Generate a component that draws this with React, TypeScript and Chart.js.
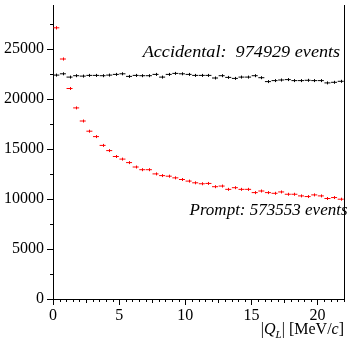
import React, { useEffect, useRef } from "react";
import { Chart, registerables } from "chart.js";

Chart.register(...registerables);

// bin centres of |Q_L| in MeV/c (0.5 MeV/c bins)
const binCenters = [
  0.25, 0.75, 1.25, 1.75, 2.25, 2.75, 3.25, 3.75, 4.25, 4.75,
  5.25, 5.75, 6.25, 6.75, 7.25, 7.75, 8.25, 8.75, 9.25, 9.75,
  10.25, 10.75, 11.25, 11.75, 12.25, 12.75, 13.25, 13.75, 14.25, 14.75,
  15.25, 15.75, 16.25, 16.75, 17.25, 17.75, 18.25, 18.75, 19.25, 19.75,
  20.25, 20.75, 21.25, 21.75,
];

const promptCounts = [
  27120, 24000, 21050, 19110, 17800, 16780, 16240, 15360, 14840, 14250,
  13990, 13640, 13200, 12930, 12930, 12510, 12340, 12280, 12115, 11950,
  11790, 11620, 11525, 11555, 11230, 11295, 10965, 11130, 10965, 10965,
  10640, 10800, 10640, 10570, 10705, 10475, 10475, 10310, 10245, 10410,
  10310, 10050, 10145, 9980,
];

const accidentalCounts = [
  22390, 22520, 22190, 22330, 22290, 22360, 22360, 22330, 22390, 22460,
  22520, 22260, 22360, 22330, 22330, 22460, 22190, 22460, 22560, 22520,
  22460, 22360, 22360, 22360, 22100, 22330, 22160, 22060, 22190, 22190,
  22330, 22130, 21740, 21840, 21900, 21940, 21840, 21840, 21870, 21840,
  21840, 21610, 21670, 21770,
];

const yTickValues = [0, 5000, 10000, 15000, 20000, 25000];
const xTickValues = [0, 5, 10, 15, 20];

const accidentalLabel = "Accidental:  974929 events";
const promptLabel = "Prompt: 573553 events";

const SERIF = '"Liberation Serif", "Times New Roman", serif';
Chart.defaults.font.family = SERIF;

const decorPlugin = {
  id: "decor",
  afterDraw(chart: any) {
    const ctx = chart.ctx as CanvasRenderingContext2D;
    const area = chart.chartArea;
    const xs = chart.scales.x;
    const ys = chart.scales.y;
    ctx.save();

    // error bars (vertical, Poisson)
    chart.data.datasets.forEach((ds: any) => {
      ctx.strokeStyle = ds.borderColor;
      ctx.lineWidth = 1;
      ds.data.forEach((p: any) => {
        const px = Math.round(xs.getPixelForValue(p.x)) + 0.5;
        const py = ys.getPixelForValue(p.y);
        const e = Math.sqrt(p.y);
        let h = Math.abs(ys.getPixelForValue(p.y - e) - py);
        if (h < 1.5) h = 1.5;
        ctx.beginPath();
        ctx.moveTo(px, py - h);
        ctx.lineTo(px, py + h);
        ctx.stroke();
      });
    });

    ctx.strokeStyle = "#000";
    ctx.lineWidth = 1;
    // right frame
    ctx.beginPath();
    ctx.moveTo(Math.round(area.right) + 0.5, area.top);
    ctx.lineTo(Math.round(area.right) + 0.5, area.bottom);
    ctx.stroke();

    // y minor ticks
    for (let v = 2500; v < ys.max; v += 5000) {
      const py = Math.round(ys.getPixelForValue(v)) + 0.5;
      ctx.beginPath();
      ctx.moveTo(area.left - 3, py);
      ctx.lineTo(area.left, py);
      ctx.stroke();
    }
    // x minor ticks
    for (let i = 1; i * 0.5 <= xs.max; i++) {
      const v = i * 0.5;
      if (Math.abs(v / 5 - Math.round(v / 5)) < 1e-9) continue;
      const px = Math.round(xs.getPixelForValue(v)) + 0.5;
      const len = Math.abs(v / 2.5 - Math.round(v / 2.5)) < 1e-9 ? 4 : 3;
      ctx.beginPath();
      ctx.moveTo(px, area.bottom);
      ctx.lineTo(px, area.bottom + len);
      ctx.stroke();
    }

    // annotations
    ctx.fillStyle = "#000";
    ctx.font = `italic 17px ${SERIF}`;
    ctx.textBaseline = "middle";
    ctx.textAlign = "left";
    // slightly wider rendering of the accidental label to match the original
    const ax = xs.getPixelForValue(6.78);
    const ay = ys.getPixelForValue(24600);
    ctx.save();
    ctx.translate(ax, ay);
    ctx.scale(1.07, 1);
    ctx.fillText(accidentalLabel, 0, 0);
    ctx.restore();
    ctx.fillText(promptLabel, xs.getPixelForValue(10.32), ys.getPixelForValue(8850));

    // axis title |Q_L| [MeV/c]
    const parts: [string, string, number][] = [
      ["|", `16px ${SERIF}`, 0],
      ["Q", `italic 16px ${SERIF}`, 0],
      ["L", `italic 11px ${SERIF}`, 4],
      ["| [MeV/", `16px ${SERIF}`, 0],
      ["c", `italic 16px ${SERIF}`, 0],
      ["]", `16px ${SERIF}`, 0],
    ];
    let total = 0;
    parts.forEach(([t, f]) => {
      ctx.font = f;
      total += ctx.measureText(t).width;
    });
    let x = area.right - total;
    const baseY = 334;
    ctx.textBaseline = "alphabetic";
    parts.forEach(([t, f, dy]) => {
      ctx.font = f;
      ctx.fillText(t, x, baseY + dy);
      x += ctx.measureText(t).width;
    });

    ctx.restore();
  },
};

export default function App() {
  const ref = useRef<HTMLCanvasElement>(null);

  useEffect(() => {
    if (!ref.current) return;
    const chart = new Chart(ref.current, {
      type: "scatter",
      data: {
        datasets: [
          {
            label: "Accidental",
            data: binCenters.map((x, i) => ({ x, y: accidentalCounts[i] })),
            pointStyle: "line",
            pointRadius: 3,
            borderColor: "#000000",
            backgroundColor: "#000000",
            borderWidth: 1,
            showLine: false,
          },
          {
            label: "Prompt",
            data: binCenters.map((x, i) => ({ x, y: promptCounts[i] })),
            pointStyle: "line",
            pointRadius: 3,
            borderColor: "#ff0000",
            backgroundColor: "#ff0000",
            borderWidth: 1,
            showLine: false,
          },
        ],
      },
      options: {
        responsive: false,
        animation: false,
        events: [],
        layout: { padding: { top: 0, right: 4, left: 0, bottom: 0 } },
        plugins: { legend: { display: false }, tooltip: { enabled: false } },
        scales: {
          x: {
            type: "linear",
            min: 0,
            max: 22,
            afterBuildTicks: (s: any) => {
              s.ticks = xTickValues.map((v) => ({ value: v }));
            },
            afterFit: (s: any) => {
              s.height = 40;
              s.paddingLeft = 0;
              s.paddingRight = 0;
            },
            border: { color: "#000", width: 1 },
            grid: { drawOnChartArea: false, drawTicks: true, tickLength: 6, color: "#000" },
            ticks: {
              color: "#000",
              font: { family: SERIF, size: 16 },
              padding: 1,
              maxRotation: 0,
              autoSkip: false,
              callback: (v: any) => String(v),
            },
          },
          y: {
            type: "linear",
            min: 0,
            max: 29400,
            afterBuildTicks: (s: any) => {
              s.ticks = yTickValues.map((v) => ({ value: v }));
            },
            afterFit: (s: any) => {
              s.width = 53;
              s.paddingTop = 0;
              s.paddingBottom = 0;
            },
            border: { color: "#000", width: 1 },
            grid: { drawOnChartArea: false, drawTicks: true, tickLength: 6, color: "#000" },
            ticks: {
              color: "#000",
              font: { family: SERIF, size: 16 },
              padding: 3,
              autoSkip: false,
              callback: (v: any) => String(v),
            },
          },
        },
      },
      plugins: [decorPlugin],
    } as any);
    return () => chart.destroy();
  }, []);

  return (
    <div style={{ position: "absolute", left: 0, top: 0, width: 349, height: 339, background: "#fff" }}>
      <canvas ref={ref} width={349} height={339} style={{ display: "block" }} />
    </div>
  );
}
